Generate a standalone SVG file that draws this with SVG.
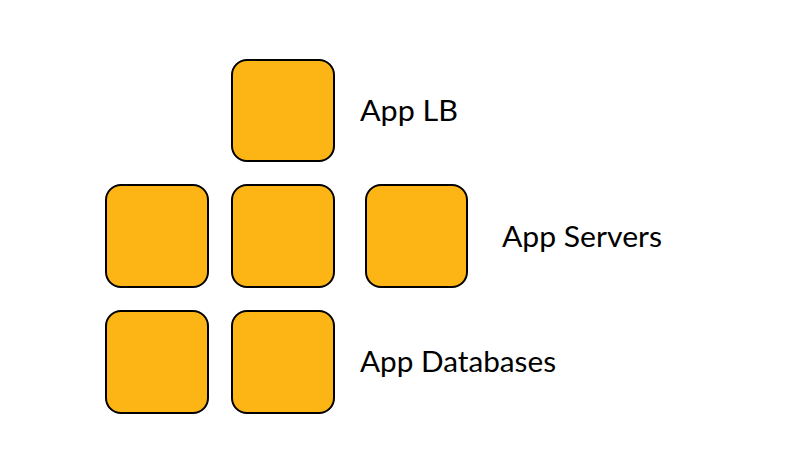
<svg xmlns="http://www.w3.org/2000/svg" width="800" height="450" viewBox="0 0 800 450">
<style>
.box{fill:#FDB515;stroke:#000;stroke-width:2}
.lbl{font-family:Lato,"Open Sans",sans-serif;font-size:28px;fill:#000}
</style>
<rect width="800" height="450" fill="#fff"/>
<g id="lb"><rect class="box" x="232" y="60" width="102" height="101" rx="15"/></g>
<g id="srv1"><rect class="box" x="106" y="185" width="102" height="102" rx="15"/></g>
<g id="srv2"><rect class="box" x="232" y="185" width="102" height="102" rx="15"/></g>
<g id="srv3"><rect class="box" x="366" y="185" width="101" height="102" rx="15"/></g>
<g id="db1"><rect class="box" x="106" y="311" width="102" height="102" rx="15"/></g>
<g id="db2"><rect class="box" x="232" y="311" width="102" height="102" rx="15"/></g>
<g id="connectors"></g>
<g id="labels">
<text class="lbl" x="360" y="121" textLength="98" lengthAdjust="spacingAndGlyphs">App LB</text>
<text class="lbl" x="502" y="247" textLength="160" lengthAdjust="spacingAndGlyphs">App Servers</text>
<text class="lbl" x="360" y="372" textLength="196" lengthAdjust="spacingAndGlyphs">App Databases</text>
</g>
</svg>
